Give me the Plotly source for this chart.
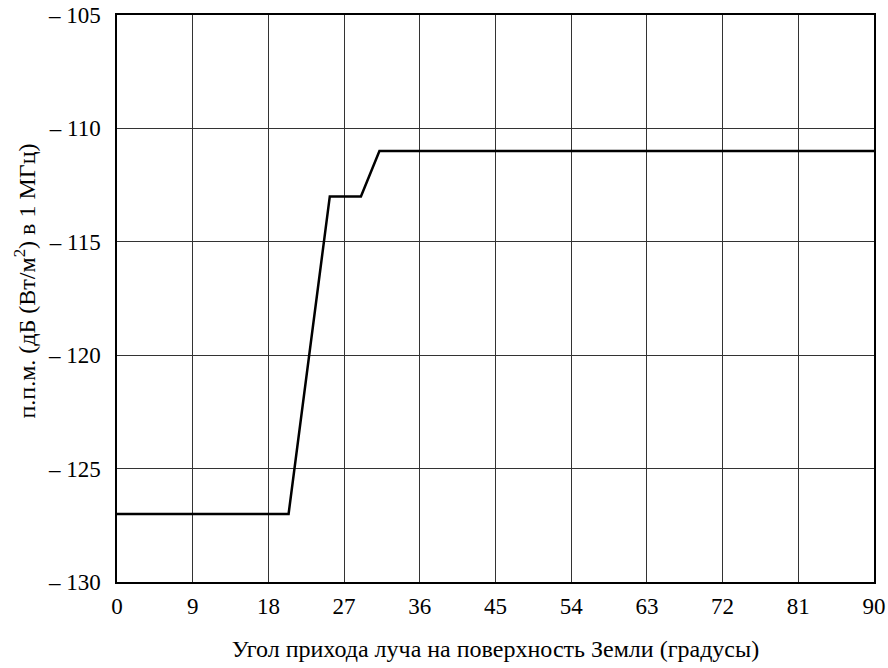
import plotly.graph_objects as go

angle = [0, 20.4, 25.3, 29.0, 31.2, 90]
pfd = [-127, -127, -113, -113, -111, -111]
x_ticks = [0, 9, 18, 27, 36, 45, 54, 63, 72, 81, 90]
y_ticks = [-130, -125, -120, -115, -110, -105]
y_tick_labels = ["\u2013 130", "\u2013 125", "\u2013 120", "\u2013 115", "\u2013 110", "\u2013 105"]
x_title = "Угол прихода луча на поверхность Земли (градусы)"
y_title = "п.п.м. (дБ (Вт/м<sup>2</sup>) в 1 МГц)"

fig = go.Figure()
fig.add_trace(go.Scatter(x=angle, y=pfd, mode="lines",
                         line=dict(color="black", width=2.5), showlegend=False))

FAM = "Liberation Serif"
tick_font = dict(family=FAM, size=23, color="black")
title_font = dict(family=FAM, size=24, color="black")
fig.update_layout(
    width=888, height=668,
    margin=dict(l=117, r=14, t=15, b=86),
    paper_bgcolor="white", plot_bgcolor="white",
    font=dict(family=FAM, size=23, color="black"),
    xaxis=dict(range=[0, 90], tickvals=x_ticks, showgrid=True, gridcolor="#333333",
               gridwidth=1, showline=True, linecolor="black", linewidth=1.5, mirror=True,
               ticks="outside", ticklen=3, tickcolor="rgba(0,0,0,0)", zeroline=False,
               tickfont=tick_font, automargin=False,
               title=dict(text=x_title, font=title_font, standoff=22)),
    yaxis=dict(range=[-130, -105], tickvals=y_ticks, ticktext=y_tick_labels, showgrid=True,
               gridcolor="#333333", gridwidth=1, showline=True, linecolor="black",
               linewidth=1.5, mirror=True, ticks="outside", ticklen=10,
               tickcolor="rgba(0,0,0,0)", zeroline=False, tickfont=tick_font, automargin=False),
    annotations=[dict(text=y_title, textangle=-90, font=title_font, showarrow=False,
                      xref="paper", yref="paper", x=0, y=0.5, xanchor="center",
                      yanchor="middle", xshift=-93, yshift=17)],
)
fig.write_html("out.html", config={"displayModeBar": False},
               post_script="document.body.style.margin='0';document.body.style.padding='0';")
